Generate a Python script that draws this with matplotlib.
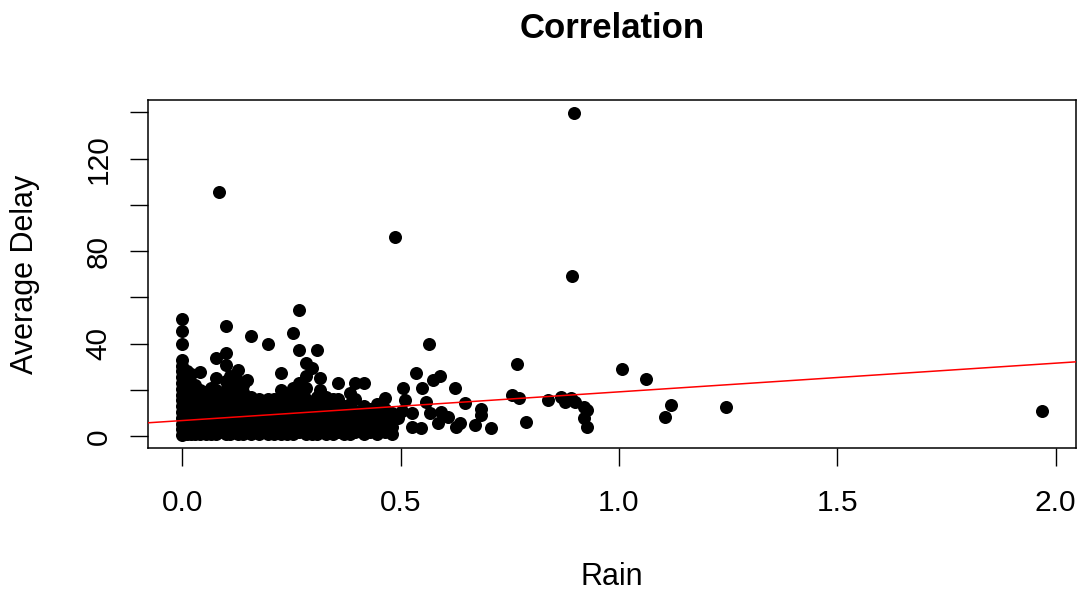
import matplotlib
matplotlib.use("Agg")
import matplotlib.pyplot as plt

plt.rcParams['font.family'] = ['Liberation Sans', 'DejaVu Sans']

# ---- data ----
# dense cluster, given column by column (rain value, list of delays)
dense_rain = [0.000, 0.010, 0.020, 0.030, 0.041, 0.055, 0.065, 0.076, 0.085,
              0.099, 0.110, 0.128, 0.140, 0.147, 0.158, 0.175, 0.197, 0.210,
              0.225, 0.240, 0.254, 0.266, 0.284, 0.296, 0.309, 0.316, 0.330,
              0.345, 0.357, 0.370, 0.385, 0.396, 0.415, 0.430, 0.445, 0.465,
              0.480]
dense_delay = [
    [0.5, 3, 5.5, 8, 10.5, 13, 15.5, 18, 20.5, 23, 25.5, 28, 30.5, 33, 40.1, 45.7, 50.9],
    [1, 4, 7, 10, 13, 16, 19, 22, 25, 28],
    [1, 4, 7, 10, 13, 16, 19, 22, 27],
    [1, 4, 7, 10, 13, 16, 19, 22],
    [1, 4, 7, 10, 13, 16, 20, 27.6],
    [1, 4, 7, 10, 13, 16, 19],
    [1, 4, 7, 10, 13, 17, 21],
    [1, 4, 7, 10, 13, 16, 20, 25, 33.7],
    [2, 5, 8, 11, 14, 18, 105.7],
    [1, 4, 7, 10, 13, 16, 20, 24, 30.6, 35.8, 47.5],
    [1, 4, 7, 10, 13, 17, 22, 26],
    [1, 4, 7, 10, 13, 16, 20, 24, 28.5],
    [1, 4, 7, 10, 13, 16, 19, 22],
    [24.2],
    [1, 4, 7, 10, 13, 17, 43.2],
    [1, 4, 7, 10, 13, 16],
    [1, 4, 7, 10, 13, 16, 40.1],
    [1, 4, 7, 10, 13, 16],
    [1, 4, 7, 10, 13, 16, 20, 27.2],
    [1, 4, 7, 10, 13, 17],
    [1, 4, 7, 10, 13, 16, 21, 44.5],
    [2, 5, 8, 11, 14, 18, 23, 37.1, 54.8],
    [1, 4, 7, 10, 13, 16, 21, 26, 31.5],
    [1, 4, 7, 10, 14, 29.3],
    [1, 4, 7, 10, 13, 17, 37.5],
    [20, 25],
    [1, 4, 7, 10, 13, 17],
    [1, 4, 7, 10, 13, 16],
    [2, 5, 8, 12, 16, 22.9],
    [1, 4, 7, 10, 13],
    [1, 4, 7, 10, 14, 18.6],
    [2, 5, 8, 11, 16, 22.9],
    [1, 4, 7, 10, 13, 22.9],
    [2, 5, 8, 12],
    [1, 4, 7, 10, 14],
    [2, 5, 8, 12, 16.4],
    [1, 4, 7, 10],
]

# sparse points
sparse_rain = [0.511, 0.502, 0.525, 0.557, 0.568, 0.547, 0.525, 0.593, 0.609,
               0.586, 0.637, 0.627, 0.648, 0.683, 0.685, 0.671, 0.708, 0.495,
               0.536, 0.548, 0.575, 0.591, 0.625, 0.506, 0.566, 0.488, 0.893,
               0.896, 0.767, 0.754, 0.770, 0.786, 0.838, 0.868, 0.877, 0.889,
               0.900, 0.919, 0.926, 0.919, 0.926, 1.008, 1.063, 1.118, 1.106,
               1.246, 1.968]
sparse_delay = [15.5, 11.0, 9.9, 14.7, 9.9, 3.5, 3.9, 10.4, 8.2,
                5.6, 5.6, 3.9, 14.2, 12.0, 9.0, 4.7, 3.5, 7.8,
                27.2, 20.7, 24.2, 25.9, 20.7, 20.7, 40.1, 86.3, 69.5,
                139.8, 31.3, 17.7, 16.4, 6.0, 15.5, 16.8, 14.7, 16.4,
                14.7, 12.5, 11.2, 7.8, 3.9, 28.9, 24.6, 13.6, 8.2,
                12.5, 10.8]

fit_intercept = 6.8
fit_slope = 12.4

x_ticks = [0.0, 0.5, 1.0, 1.5, 2.0]
x_tick_labels = ["0.0", "0.5", "1.0", "1.5", "2.0"]
y_ticks = [0, 20, 40, 60, 80, 100, 120, 140]
y_tick_labels = ["0", "", "40", "", "80", "", "120", ""]

# ---- build point arrays ----
rain = []
delay = []
for xv, ys in zip(dense_rain, dense_delay):
    for yv in ys:
        rain.append(xv)
        delay.append(yv)
rain += sparse_rain
delay += sparse_delay

# ---- plot ----
W, H = 1078, 591
fig = plt.figure(figsize=(W / 100, H / 100), dpi=100)
ax = fig.add_axes([148 / W, 1 - 448 / H, (1076 - 148) / W, (448 - 100) / H])

ax.scatter(rain, delay, s=88, c='black', marker='o', linewidths=0, zorder=2)
ax.axline((0, fit_intercept), slope=fit_slope, color='#ff0000', lw=1.1, zorder=3)

xmin, xmax = min(rain), max(rain)
ymin, ymax = min(delay), max(delay)
ax.set_xlim(xmin - 0.04 * (xmax - xmin), xmax + 0.04 * (xmax - xmin))
ax.set_ylim(ymin - 0.04 * (ymax - ymin), ymax + 0.04 * (ymax - ymin))

ax.set_xticks(x_ticks)
ax.set_xticklabels(x_tick_labels)
ax.set_yticks(y_ticks)
ax.set_yticklabels(y_tick_labels, rotation=90, va='center')

ax.tick_params(axis='both', direction='out', length=13, width=1.0,
               labelsize=21.5, colors='black')
ax.tick_params(axis='x', pad=16.5)
ax.tick_params(axis='y', pad=12.5)
for sp in ax.spines.values():
    sp.set_linewidth(1.1)
    sp.set_color('black')

cx = (148 + 1076) / 2 / W
fig.text(cx, 1 - 38.5 / H, "Correlation", ha='center', va='baseline',
         fontsize=25, fontweight='bold')
fig.text(cx, 1 - 585 / H, "Rain", ha='center', va='baseline', fontsize=22)
fig.text(33 / W, 1 - 274 / H, "Average Delay", ha='center', va='baseline',
         fontsize=22, rotation=90, rotation_mode='anchor')

fig.savefig("out.png", dpi=100, facecolor='white')
